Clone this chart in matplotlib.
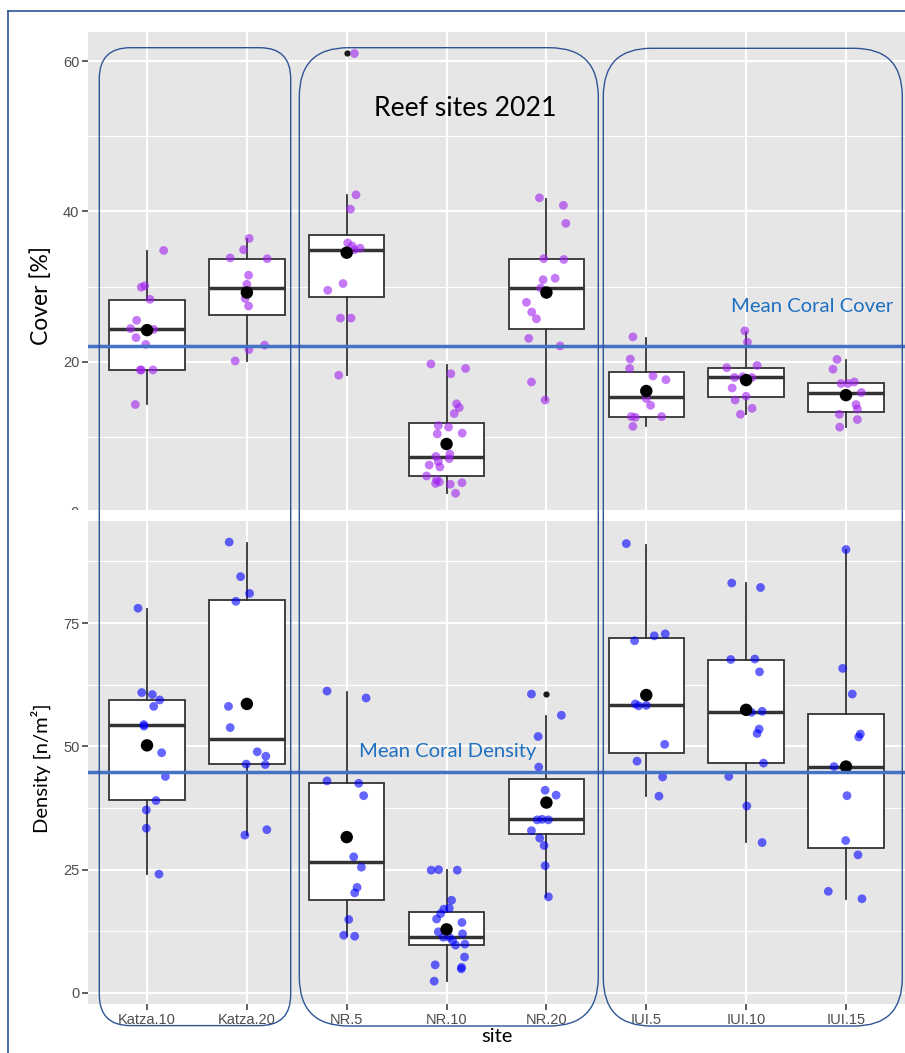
import matplotlib
matplotlib.use("Agg")
import matplotlib.pyplot as plt
from matplotlib.patches import FancyBboxPatch, Rectangle
from matplotlib.lines import Line2D
from matplotlib.transforms import IdentityTransform

# ---------------- data ----------------
sites = ["Katza.10", "Katza.20", "NR.5", "NR.10", "NR.20", "IUI.5", "IUI.10", "IUI.15"]

cover_values = [
    [34.8, 29.9, 30.1, 28.3, 25.5, 24.4, 24.3, 23.2, 22.3, 18.9, 18.9, 18.9, 14.3],
    [36.4, 34.9, 33.8, 33.7, 31.5, 30.3, 29.4, 28.4, 27.4, 22.2, 21.6, 20.1],
    [61.0, 42.2, 40.3, 35.8, 35.4, 35.1, 34.9, 30.4, 29.5, 25.8, 25.8, 18.2],
    [19.7, 19.1, 18.4, 14.4, 13.9, 13.1, 11.5, 11.3, 10.4, 10.5, 7.7, 7.1, 7.4, 6.7, 6.25, 6.0,
     4.8, 4.3, 3.8, 4.0, 3.7, 3.9, 2.5],
    [41.8, 40.8, 38.4, 33.7, 33.6, 30.9, 31.1, 29.8, 27.9, 26.6, 25.7, 23.1, 22.1, 17.3, 14.9],
    [23.3, 20.35, 19.1, 18.1, 17.6, 15.1, 14.2, 12.7, 12.6, 12.7, 11.4],
    [24.1, 22.6, 19.2, 19.5, 17.9, 18.0, 17.9, 16.5, 15.4, 14.9, 13.8, 13.0],
    [20.3, 19.0, 17.1, 17.1, 17.3, 15.9, 14.3, 13.7, 13.0, 12.3, 11.3],
]
cover_jitter = [
    [0.167, -0.057, -0.023, 0.030, -0.104, -0.164, 0.067, -0.110, -0.013, -0.067, -0.057, 0.060, -0.117],
    [0.023, -0.033, -0.167, 0.204, 0.017, 0.0, -0.010, -0.017, 0.017, 0.177, 0.020, -0.117],
    [0.077, 0.093, 0.037, 0.010, 0.053, 0.134, 0.077, -0.037, -0.190, -0.063, 0.043, -0.080],
    [-0.157, 0.190, 0.043, 0.100, 0.127, 0.077, -0.083, 0.020, -0.093, 0.157, 0.033, 0.027, -0.107,
     -0.083, -0.174, -0.067, -0.200, -0.100, -0.110, -0.073, 0.037, 0.154, 0.090],
    [-0.070, 0.170, 0.194, -0.027, 0.174, -0.033, 0.087, -0.057, -0.200, -0.147, -0.100, -0.177, 0.137,
     -0.150, -0.013],
    [-0.134, -0.160, -0.167, 0.067, 0.197, 0.0, 0.043, -0.150, -0.110, 0.154, -0.134],
    [-0.013, 0.013, -0.194, 0.110, -0.117, -0.033, 0.057, -0.140, 0.0, -0.110, 0.060, -0.057],
    [-0.090, -0.130, -0.050, 0.020, 0.083, 0.154, 0.100, 0.114, -0.067, 0.114, -0.063],
]
cover_q1 = [18.9, 26.2, 28.6, 4.8, 24.3, 12.7, 15.35, 13.35]
cover_med = [24.3, 29.8, 34.9, 7.3, 29.8, 15.35, 17.9, 15.8]
cover_q3 = [28.2, 33.7, 36.85, 11.9, 33.6, 18.6, 19.2, 17.2]
cover_lo = [14.4, 20.1, 18.2, 2.5, 14.9, 11.4, 13.1, 11.3]
cover_hi = [34.7, 36.3, 42.2, 19.6, 41.6, 23.2, 23.9, 20.2]
cover_out = [[], [], [61.0], [], [], [], [], []]
cover_mean = [24.2, 29.2, 34.5, 9.05, 29.2, 16.1, 17.55, 15.55]
cover_overall = 22.1

density_values = [
    [78.0, 60.9, 60.5, 59.4, 58.1, 54.4, 54.1, 48.7, 43.9, 39.0, 37.1, 33.4, 24.1],
    [91.4, 84.4, 81.0, 79.4, 58.1, 53.8, 48.9, 48.0, 46.4, 46.3, 32.0, 33.1],
    [61.2, 59.8, 43.0, 42.5, 40.0, 27.6, 25.5, 21.4, 20.3, 14.9, 11.7, 11.5],
    [24.9, 25.0, 24.9, 18.8, 17.2, 17.0, 16.1, 15.0, 14.3, 12.4, 12.0, 11.3, 11.3, 10.6, 9.7, 9.9,
     7.3, 5.7, 5.2, 4.9, 2.4],
    [60.6, 56.3, 52.0, 45.8, 41.1, 40.1, 35.1, 35.2, 35.1, 32.9, 31.4, 29.9, 25.8, 19.5],
    [91.1, 72.4, 72.8, 71.4, 58.6, 58.2, 58.3, 50.4, 47.0, 43.8, 39.9],
    [83.1, 82.2, 67.6, 67.7, 65.1, 56.9, 57.1, 53.5, 52.6, 46.6, 43.9, 37.9, 30.5],
    [89.9, 65.8, 60.6, 52.5, 51.9, 45.9, 40.0, 30.9, 28.0, 20.6, 19.1],
]
density_jitter = [
    [-0.090, -0.053, 0.053, 0.127, 0.067, -0.033, -0.030, 0.147, 0.184, 0.090, -0.007, -0.007, 0.120],
    [-0.177, -0.063, 0.027, -0.110, -0.184, -0.167, 0.104, 0.190, -0.007, 0.184, -0.020, 0.200],
    [-0.197, 0.194, -0.197, 0.120, 0.170, 0.070, 0.147, 0.104, 0.080, 0.020, -0.030, 0.080],
    [-0.154, -0.080, 0.107, 0.050, 0.027, -0.027, -0.060, -0.100, 0.154, -0.083, 0.160, -0.033, 0.027,
     0.060, 0.090, 0.184, 0.180, -0.114, 0.150, 0.147, -0.124],
    [-0.150, 0.150, -0.083, -0.077, -0.013, 0.097, -0.093, -0.043, 0.020, -0.150, -0.067, -0.023,
     -0.013, 0.020],
    [-0.200, 0.080, 0.190, -0.117, -0.110, -0.077, 0.0, 0.184, -0.093, 0.164, 0.127],
    [-0.144, 0.144, -0.154, 0.087, 0.134, 0.053, 0.160, 0.130, 0.110, 0.174, -0.174, 0.007, 0.160],
    [0.0, -0.033, 0.063, 0.144, 0.127, -0.120, 0.010, -0.003, 0.120, -0.177, 0.160],
]
density_q1 = [39.1, 46.4, 18.9, 9.7, 32.2, 48.6, 46.6, 29.4]
density_med = [54.3, 51.4, 26.6, 11.4, 35.2, 58.4, 56.9, 45.9]
density_q3 = [59.4, 79.7, 42.5, 16.4, 43.3, 71.9, 67.5, 56.5]
density_lo = [24.1, 32.0, 11.6, 2.4, 19.5, 40.0, 30.6, 19.1]
density_hi = [77.9, 91.3, 61.1, 24.9, 56.1, 90.9, 83.1, 89.9]
density_out = [[], [], [], [], [60.6], [], [], []]
density_mean = [50.2, 58.6, 31.6, 12.9, 38.6, 60.4, 57.4, 45.9]
density_overall = 44.7

cover_ticks = [20, 40, 60]
cover_minor = [10, 30, 50]
density_ticks = [0, 25, 50, 75]
density_minor = [12.5, 37.5, 62.5, 87.5]

# ---------------- figure ----------------
W, H = 905, 1053
fig = plt.figure(figsize=(W / 100, H / 100), dpi=100)
fig.patch.set_facecolor("white")

TICKFONT = ["Liberation Sans", "DejaVu Sans"]
OFFICE = ["Lato", "DejaVu Sans"]

ax1 = fig.add_axes([87.7 / W, (H - 510) / H, (906 - 87.7) / W, 478 / H])
ax2 = fig.add_axes([87.7 / W, (H - 1003.5) / H, (906 - 87.7) / W, 483 / H])

positions = list(range(1, len(sites) + 1))


def style(ax, ylim, major, minor):
    ax.set_facecolor("#E6E6E6")
    ax.set_xlim(0.406, 8.601)
    ax.set_ylim(*ylim)
    ax.set_yticks(major)
    ax.set_yticks(minor, minor=True)
    ax.set_xticks(positions)
    ax.grid(which="major", color="white", lw=1.5)
    ax.grid(which="minor", axis="y", color="white", lw=0.8)
    ax.set_axisbelow(True)
    for s in ax.spines.values():
        s.set_visible(False)
    ax.tick_params(which="major", length=4, width=1.1, color="#333333",
                   labelcolor="#4D4D4D", labelsize=10.5, pad=2)
    ax.tick_params(which="minor", length=0)
    for lab in ax.get_yticklabels() + ax.get_xticklabels():
        lab.set_family(TICKFONT)


def draw(ax, vals, jit, q1, med, q3, lo, hi, out, mean, pcolor):
    stats = []
    for i in range(len(sites)):
        stats.append(dict(q1=q1[i], med=med[i], q3=q3[i], whislo=lo[i],
                          whishi=hi[i], fliers=out[i], mean=mean[i]))
    ax.bxp(stats, positions=positions, widths=0.754, patch_artist=True,
           showcaps=False, showfliers=True, manage_ticks=False,
           boxprops=dict(facecolor="white", edgecolor="#333333", lw=1.3),
           medianprops=dict(color="#333333", lw=2.5, solid_capstyle="butt"),
           whiskerprops=dict(color="#333333", lw=1.3),
           flierprops=dict(marker="o", markerfacecolor="#1a1a1a",
                           markeredgecolor="none", markersize=4.5),
           zorder=2)
    for i, (v, d) in enumerate(zip(vals, jit)):
        ax.scatter([positions[i] + dd for dd in d], v, s=40, color=pcolor,
                   alpha=0.6, edgecolors="none", zorder=3)
    ax.scatter(positions, mean, s=80, color="black", edgecolors="none", zorder=4)


style(ax1, (0.27, 63.86), cover_ticks, cover_minor)
style(ax2, (-2.13, 95.78), density_ticks, density_minor)
ax1.tick_params(axis="x", length=0, labelbottom=False)
ax2.set_xticklabels(sites)
for lab in ax2.get_xticklabels():
    lab.set_family(TICKFONT)
ax2.tick_params(axis="x", pad=3)

draw(ax1, cover_values, cover_jitter, cover_q1, cover_med, cover_q3, cover_lo,
     cover_hi, cover_out, cover_mean, "#A020F0")
draw(ax2, density_values, density_jitter, density_q1, density_med, density_q3,
     density_lo, density_hi, density_out, density_mean, "#0000FF")

ax1.axhline(cover_overall, color="#4472C4", lw=2.5, zorder=5)
ax2.axhline(density_overall, color="#4472C4", lw=2.5, zorder=5)

ax1.text(4.19, 53.7, "Reef sites 2021", ha="center", va="center",
         fontsize=19.2, color="black", family=OFFICE, zorder=6)
ax1.text(7.66, 27.4, "Mean Coral Cover", ha="center", va="center",
         fontsize=14.6, color="#1F70C1", family=OFFICE, zorder=6)
ax2.text(4.01, 48.9, "Mean Coral Density", ha="center", va="center",
         fontsize=14.6, color="#1F70C1", family=OFFICE, zorder=6)

# axis titles
fig.text(41 / W, 1 - 295 / H, "Cover [%]", rotation=90, ha="center", va="center",
         fontsize=16.5, family=OFFICE)
fig.text(41 / W, 1 - 768 / H, "Density [n/m²]", rotation=90, ha="center", va="center",
         fontsize=14.5, family=OFFICE)
fig.text(496.7 / W, 1 - 1037 / H, "site", ha="center", va="center",
         fontsize=14.5, family=OFFICE)

# partially hidden "0" label of the upper panel (lower half covered)
fig.text(79 / W, 1 - 513 / H, "0", ha="right", va="center", fontsize=10.5,
         color="#4D4D4D", family=TICKFONT, zorder=1)
ident = IdentityTransform()
fig.add_artist(Rectangle((15, H - 520), 72, 10, transform=ident, facecolor="white",
                         edgecolor="none", zorder=2))

# outer frame
frame_c = "#2F5597"
fig.add_artist(Line2D([7.5, W], [H - 11, H - 11], transform=ident, color=frame_c, lw=1.2, zorder=4))
fig.add_artist(Line2D([7.5, 7.5], [H - 11, 0], transform=ident, color=frame_c, lw=1.2, zorder=4))

# rounded group boxes
groups = [(99.3, 47.7, 290.7, 1025.6, 31), (299.3, 47.7, 598.3, 1026, 49),
          (603.3, 48.3, 902.3, 1026, 48)]
for x0, y0, x1, y1, r in groups:
    p = FancyBboxPatch((x0, H - y1), x1 - x0, y1 - y0,
                       boxstyle=f"round,pad=0,rounding_size={r}",
                       transform=ident, fill=False, ec=frame_c, lw=1.0, zorder=4)
    fig.add_artist(p)

fig.savefig("out.png", dpi=100)
